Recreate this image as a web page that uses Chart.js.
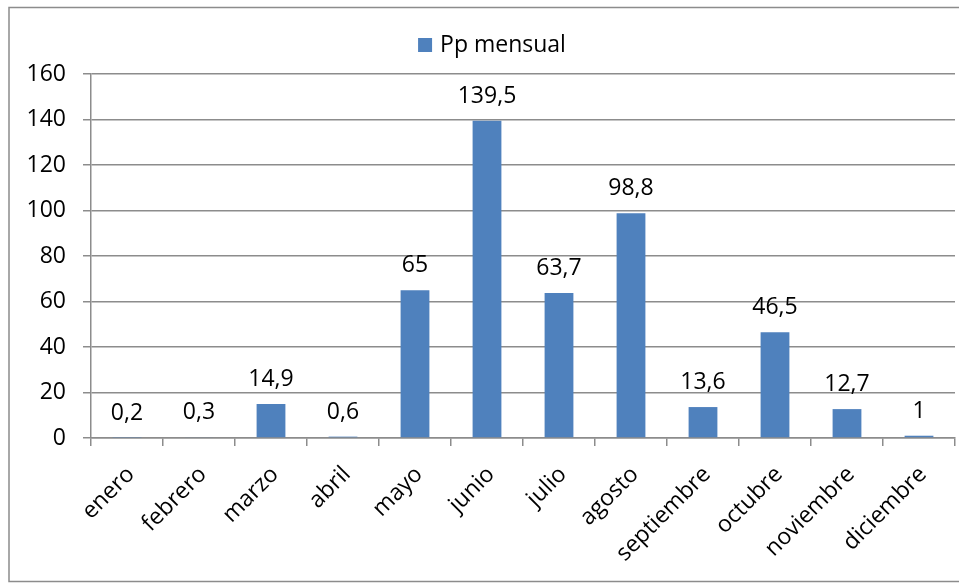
<!DOCTYPE html>
<html>
<head>
<meta charset="utf-8">
<script src="https://cdn.jsdelivr.net/npm/chart.js@4/dist/chart.umd.min.js"></script>
<style>
  html, body { margin: 0; padding: 0; background: #fff; overflow: hidden; }
  #wrap { width: 959px; height: 583px; position: relative; }
</style>
</head>
<body>
<div id="wrap"><canvas id="c" width="959" height="583"></canvas></div>
<script>
// Monthly precipitation (mm)
const months = ['enero', 'febrero', 'marzo', 'abril', 'mayo', 'junio',
                'julio', 'agosto', 'septiembre', 'octubre', 'noviembre', 'diciembre'];
const rainfall = [0.2, 0.3, 14.9, 0.6, 65, 139.5, 63.7, 98.8, 13.6, 46.5, 12.7, 1];
const seriesName = 'Pp mensual';
const yMin = 0;
const yMax = 160;
const yStep = 20;

const FONT = "'Open Sans', 'Noto Sans', sans-serif";
const FONT_SIZE = 23;
const BAR_COLOR = '#4F81BD';
const LINE_COLOR = '#8c8c8c';

// Spanish decimal comma
const fmt = v => String(v).replace('.', ',');

// Outer frame, legend and value labels drawn on the canvas
const decorations = {
  id: 'decorations',
  beforeDraw(chart) {
    const ctx = chart.ctx;
    ctx.save();
    ctx.fillStyle = '#fff';
    ctx.fillRect(0, 0, chart.width, chart.height);
    ctx.strokeStyle = LINE_COLOR;
    ctx.lineWidth = 1.5;
    ctx.strokeRect(9, 7.5, chart.width + 20, 574);
    ctx.restore();
  },
  afterDatasetsDraw(chart) {
    const ctx = chart.ctx;
    const meta = chart.getDatasetMeta(0);
    const values = chart.data.datasets[0].data;
    ctx.save();
    ctx.font = FONT_SIZE + 'px ' + FONT;
    ctx.fillStyle = '#000';
    ctx.textAlign = 'center';
    ctx.textBaseline = 'alphabetic';
    meta.data.forEach((bar, i) => {
      ctx.fillText(fmt(values[i]), bar.x, bar.y - 18);
    });
    ctx.restore();
  },
  afterDraw(chart) {
    const ctx = chart.ctx;
    const ds = chart.data.datasets[0];
    ctx.save();
    ctx.font = FONT_SIZE + 'px ' + FONT;
    const box = 14, gap = 8;
    const textW = ctx.measureText(ds.label).width;
    const total = box + gap + textW;
    const cx = 492;
    const x0 = cx - total / 2;
    const baseline = 52;
    ctx.fillStyle = ds.backgroundColor;
    ctx.fillRect(x0, baseline - box, box, box);
    ctx.fillStyle = '#000';
    ctx.textAlign = 'left';
    ctx.textBaseline = 'alphabetic';
    ctx.fillText(ds.label, x0 + box + gap, baseline);
    ctx.restore();
  }
};

new Chart(document.getElementById('c'), {
  type: 'bar',
  data: {
    labels: months,
    datasets: [{
      label: seriesName,
      data: rainfall,
      backgroundColor: BAR_COLOR,
      borderWidth: 0,
      categoryPercentage: 1.0,
      barPercentage: 0.4
    }]
  },
  options: {
    responsive: false,
    animation: false,
    devicePixelRatio: 1,
    layout: { padding: { left: 0, right: 4, top: 74, bottom: 0 } },
    plugins: {
      legend: { display: false },
      tooltip: { enabled: false }
    },
    scales: {
      x: {
        offset: true,
        grid: {
          display: true,
          offset: true,
          drawOnChartArea: false,
          drawTicks: true,
          tickLength: 8,
          color: LINE_COLOR,
          lineWidth: 1.5
        },
        border: { display: true, color: LINE_COLOR, width: 1.5 },
        ticks: {
          autoSkip: false,
          maxRotation: 45,
          minRotation: 45,
          padding: 15,
          labelOffset: 4,
          color: '#000',
          font: { family: FONT, size: FONT_SIZE }
        },
        afterFit(scale) { scale.height = 145; }
      },
      y: {
        min: yMin,
        max: yMax,
        ticks: {
          stepSize: yStep,
          padding: 17,
          color: '#000',
          font: { family: FONT, size: FONT_SIZE }
        },
        grid: {
          color: LINE_COLOR,
          lineWidth: 1.5,
          tickLength: 8,
          drawTicks: true
        },
        border: { display: true, color: LINE_COLOR, width: 1.5 },
        afterFit(scale) { scale.width = 91; }
      }
    }
  },
  plugins: [decorations]
});
</script>
</body>
</html>
